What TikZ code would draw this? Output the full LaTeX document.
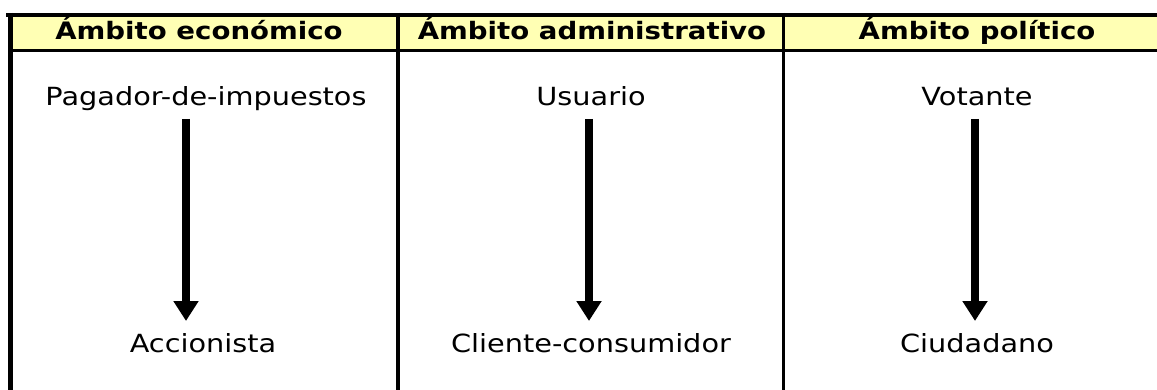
\documentclass[tikz,border=0pt]{standalone}
\usepackage{fontspec}
\setmainfont{DejaVu Sans}[FakeStretch=1.15]
\usetikzlibrary{arrows.meta}
\definecolor{hdyellow}{HTML}{FFFFB4}
\tikzset{
  rule/.style={draw=black, line cap=rect},
  hdtext/.style={font=\fontsize{24}{28}\selectfont\bfseries, anchor=base, inner sep=0pt},
  bodytext/.style={font=\fontsize{25}{29}\selectfont, anchor=base, inner sep=0pt},
  bigarrow/.style={line width=8pt, -{Triangle[width=24pt,length=20pt]}},
}
\begin{document}
\begin{tikzpicture}[x=1pt,y=-1pt]
\useasboundingbox (0,0) rectangle (1157,390);
% header background
\fill[hdyellow] (10,15) rectangle (1157,50);
% rules
\draw[rule, line width=4pt] (8,15) -- (1157,15);
\draw[rule, line width=3.5pt] (10,50.5) -- (1157,50.5);
\draw[line width=5pt] (10.5,13) -- (10.5,390);
\draw[line width=4pt] (398,13) -- (398,390);
\draw[line width=3.5pt] (783.5,13) -- (783.5,390);
% headers
\node[hdtext] (h1) at (199,40) {Ámbito económico};
\node[hdtext] (h2) at (592,40) {Ámbito administrativo};
\node[hdtext] (h3) at (977,40) {Ámbito político};
% top texts
\node[bodytext] (t1) at (206,106) {Pagador-de-impuestos};
\node[bodytext] (t2) at (591,106) {Usuario};
\node[bodytext] (t3) at (977,106) {Votante};
% bottom texts
\node[bodytext] (b1) at (203,352) {Accionista};
\node[bodytext] (b2) at (591,352) {Cliente-consumidor};
\node[bodytext] (b3) at (977,352) {Ciudadano};
% arrow ends
\coordinate (s1) at (186,119);
\coordinate (e1) at (186,321);
\coordinate (s2) at (589,119);
\coordinate (e2) at (589,321);
\coordinate (s3) at (975,119);
\coordinate (e3) at (975,321);
\draw[bigarrow] (s1) -- (e1);
\draw[bigarrow] (s2) -- (e2);
\draw[bigarrow] (s3) -- (e3);
\end{tikzpicture}
\end{document}
